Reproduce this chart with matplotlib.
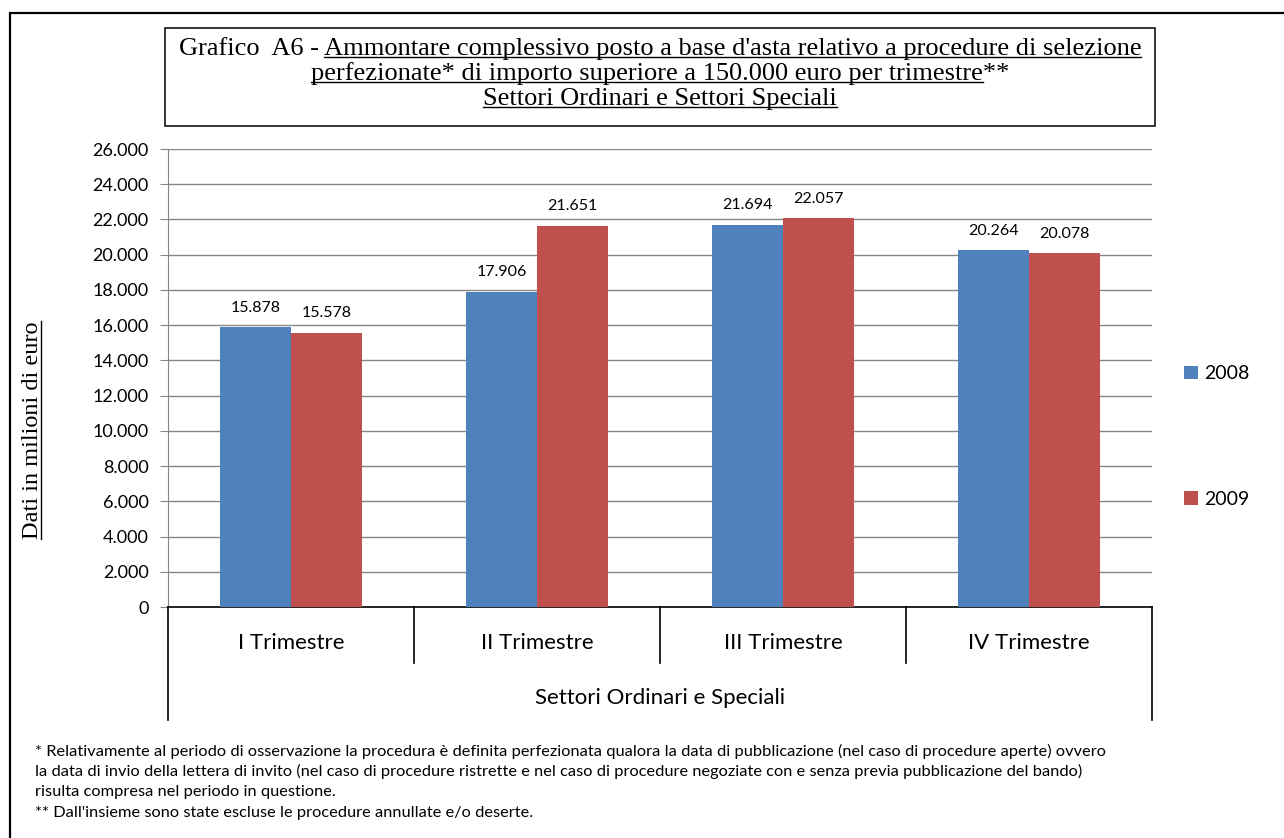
import numpy as np
import matplotlib.pyplot as plt
from matplotlib.lines import Line2D
from matplotlib.patches import Rectangle
import matplotlib.transforms as mtransforms

# data
trimestri = ["I Trimestre", "II Trimestre", "III Trimestre", "IV Trimestre"]
val_2008 = [15878, 17906, 21694, 20264]
val_2009 = [15578, 21651, 22057, 20078]
anni = ["2008", "2009"]
yticks = np.arange(0, 26001, 2000)

blue = "#4F81BD"
red = "#C0504D"
sans = ["Lato", "DejaVu Sans"]
serif = ["Liberation Serif", "DejaVu Serif"]

W, H = 1284, 838
fig = plt.figure(figsize=(W / 100, H / 100), dpi=100)
fig.patch.set_facecolor("white")

# outer frame
fig.add_artist(Rectangle((10 / W, -0.05), 1.1, 1 - 13 / H + 0.05, transform=fig.transFigure,
                         fill=False, edgecolor="black", linewidth=1.6))
# title box
fig.add_artist(Rectangle((165 / W, 1 - 126 / H), 990 / W, 98 / H, transform=fig.transFigure,
                         fill=False, edgecolor="black", linewidth=1.1))

ax = fig.add_axes([168 / W, 1 - 607 / H, 984 / W, 458 / H])
x = np.arange(len(trimestri))
bw = 0.289
b1 = ax.bar(x - bw / 2, val_2008, bw, color=blue, label=anni[0], zorder=3)
b2 = ax.bar(x + bw / 2, val_2009, bw, color=red, label=anni[1], zorder=3)

def fmt(v):
    return f"{v:,.0f}".replace(",", ".")

for bars, vals in [(b1, val_2008), (b2, val_2009)]:
    for rect, v in zip(bars, vals):
        ax.annotate(fmt(v), (rect.get_x() + rect.get_width() / 2, v), xytext=(0, 9),
                    textcoords="offset points", ha="center", va="bottom",
                    fontsize=11.5, family=sans)

ax.set_xlim(-0.5, len(trimestri) - 0.5)
ax.set_ylim(0, 26000)
ax.set_yticks(yticks)
ax.set_yticklabels([fmt(v) for v in yticks], family=sans, fontsize=13)
ax.set_xticks([])
ax.yaxis.grid(True, color="#868686", linewidth=1.0, zorder=0)
ax.tick_params(axis="y", length=6, color="#868686", pad=8)
for s in ["top", "right"]:
    ax.spines[s].set_visible(False)
ax.spines["left"].set_color("#868686")
ax.spines["bottom"].set_color("black")
ax.spines["bottom"].set_linewidth(1.2)

# category table below the axis
trans = mtransforms.blended_transform_factory(ax.transData, ax.transAxes)
row1 = -56 / 458
row2 = -113 / 458
for xb in np.arange(0.5, len(trimestri) - 0.5, 1.0):
    ax.add_line(Line2D([xb, xb], [0, row1], transform=trans, color="black", lw=1.2, clip_on=False))
for xb in [-0.5, len(trimestri) - 0.5]:
    ax.add_line(Line2D([xb, xb], [0, row2], transform=trans, color="black", lw=1.2, clip_on=False))
for xi, lab in zip(x, trimestri):
    ax.text(xi, -36 / 458, lab, transform=trans, ha="center", va="center", fontsize=16, family=sans)
ax.text((len(trimestri) - 1) / 2, -91 / 458, "Settori Ordinari e Speciali", transform=trans,
        ha="center", va="center", fontsize=16, family=sans)

# legend
leg = ax.legend(loc="center left", bbox_to_anchor=(1.015, 0.372), frameon=False,
                prop={"family": sans, "size": 14}, handlelength=0.7, handleheight=0.7,
                handletextpad=0.3, labelspacing=5.6)

# title with underlined parts
cx = 660 / W
lines = [
    ("Grafico  A6 - ", "Ammontare complessivo posto a base d'asta relativo a procedure di selezione", ""),
    ("", "perfezionate* di importo superiore a 150.000 euro per trimestre", "**"),
    ("", "Settori Ordinari e Settori Speciali", ""),
]
ys = [49, 74, 99]
tsize = 19
renderer = fig.canvas.get_renderer()
for (pre, und, post), yp in zip(lines, ys):
    t = fig.text(cx, 1 - yp / H, pre + und + post, ha="center", va="center",
                 fontsize=tsize, family=serif)
    bb = t.get_window_extent(renderer)
    tmp = fig.text(0, 0, und, fontsize=tsize, family=serif)
    uw = tmp.get_window_extent(renderer).width
    tmp.remove()
    if pre:
        x1 = bb.x1
        x0 = x1 - uw
    else:
        x0 = bb.x0
        x1 = x0 + uw
    yu = bb.y0 + 3
    fig.add_artist(Line2D([x0 / W, x1 / W], [yu / H, yu / H], transform=fig.transFigure,
                          color="black", lw=1.0))

# y label, underlined
yl = fig.text(33 / W, 1 - 430 / H, "Dati in milioni di euro", rotation=90, ha="center", va="center",
              fontsize=17.5, family=serif)
bb = yl.get_window_extent(renderer)
xu = bb.x1 - 3
fig.add_artist(Line2D([xu / W, xu / W], [bb.y0 / H, bb.y1 / H], transform=fig.transFigure,
                      color="black", lw=1.0))

# footnotes
notes = [
    "* Relativamente al periodo di osservazione la procedura è definita perfezionata qualora la data di pubblicazione (nel caso di procedure aperte) ovvero",
    "la data di invio della lettera di invito (nel caso di procedure ristrette e nel caso di procedure negoziate con e senza previa pubblicazione del bando)",
    "risulta compresa nel periodo in questione.",
    "** Dall'insieme sono state escluse le procedure annullate e/o deserte.",
]
for i, n in enumerate(notes):
    fig.text(35 / W, 1 - (751 + i * 20.5) / H, n, ha="left", va="center", fontsize=11.8, family=sans)

fig.savefig("out.png", dpi=100)
